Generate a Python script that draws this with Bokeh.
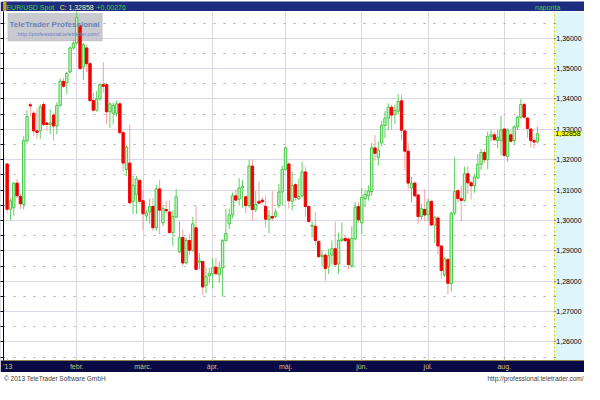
from bokeh.plotting import figure
from bokeh.models import Range1d, FixedTicker, LinearAxis, Label, BoxAnnotation, ColumnDataSource
from bokeh.layouts import column
from bokeh.embed import file_html
from bokeh.resources import INLINE
from bokeh.core.properties import value

# ---------------- data (EUR/USD Spot, daily, 3 Jan 2013 - 14 Aug 2013) ----------------
opens = [
    1.3186, 1.3037, 1.3042, 1.3123, 1.3079, 1.3053, 1.3263, 1.3381, 1.3353, 1.3295,
    1.3295, 1.3382, 1.3321, 1.3316, 1.3347, 1.3311, 1.3379, 1.3458, 1.3453, 1.3489,
    1.3568, 1.3584, 1.3642, 1.3505, 1.3568, 1.3516, 1.3395, 1.3363, 1.3400, 1.3447,
    1.3447, 1.3358, 1.3353, 1.3353, 1.3384, 1.3289, 1.3168, 1.3189, 1.3063, 1.3084,
    1.3132, 1.3065, 1.3015, 1.3028, 1.3046, 1.2976, 1.3104, 1.2992, 1.3036, 1.3028,
    1.2960, 1.3011, 1.2897, 1.2944, 1.2860, 1.2934, 1.2902, 1.2976, 1.2862, 1.2865,
    1.2786, 1.2818, 1.2825, 1.2846, 1.2823, 1.2844, 1.2934, 1.2989, 1.3018, 1.3081,
    1.3070, 1.3107, 1.3078, 1.3049, 1.3179, 1.3036, 1.3063, 1.3067, 1.3046, 1.3004,
    1.3013, 1.3013, 1.3049, 1.3094, 1.3168, 1.3186, 1.3063, 1.3118, 1.3071, 1.3081,
    1.3160, 1.3046, 1.2981, 1.2981, 1.2931, 1.2881, 1.2886, 1.2849, 1.2886, 1.2907,
    1.2857, 1.2934, 1.2941, 1.2939, 1.2850, 1.2939, 1.3046, 1.2992, 1.3071, 1.3081,
    1.3095, 1.3239, 1.3207, 1.3255, 1.3313, 1.3337, 1.3373, 1.3349, 1.3360, 1.3394,
    1.3295, 1.3228, 1.3107, 1.3123, 1.3084, 1.3013, 1.3036, 1.3019, 1.3063, 1.2985,
    1.3008, 1.2916, 1.2821, 1.2872, 1.2793, 1.3024, 1.3098, 1.3072, 1.3066, 1.3154,
    1.3124, 1.3114, 1.3140, 1.3185, 1.3224, 1.3200, 1.3277, 1.3282, 1.3263, 1.3263,
    1.3301, 1.3211, 1.3282, 1.3263, 1.3308, 1.3340, 1.3382, 1.3337, 1.3301, 1.3263,
    1.3259,
]
highs = [
    1.3190, 1.3074, 1.3126, 1.3137, 1.3089, 1.3279, 1.3363, 1.3389, 1.3360, 1.3368,
    1.3382, 1.3389, 1.3326, 1.3366, 1.3353, 1.3389, 1.3468, 1.3468, 1.3489, 1.3574,
    1.3595, 1.3711, 1.3647, 1.3584, 1.3579, 1.3521, 1.3421, 1.3426, 1.3453, 1.3521,
    1.3453, 1.3389, 1.3389, 1.3395, 1.3389, 1.3295, 1.3247, 1.3316, 1.3147, 1.3147,
    1.3137, 1.3100, 1.3036, 1.3071, 1.3074, 1.3118, 1.3134, 1.3049, 1.3065, 1.3065,
    1.3034, 1.3104, 1.2997, 1.2971, 1.2944, 1.2955, 1.3011, 1.3049, 1.2892, 1.2867,
    1.2844, 1.2844, 1.2876, 1.2878, 1.2865, 1.2939, 1.3039, 1.3039, 1.3092, 1.3102,
    1.3139, 1.3134, 1.3081, 1.3200, 1.3200, 1.3097, 1.3128, 1.3076, 1.3081, 1.3034,
    1.3097, 1.3039, 1.3120, 1.3181, 1.3244, 1.3192, 1.3160, 1.3123, 1.3139, 1.3194,
    1.3176, 1.3049, 1.2997, 1.3028, 1.2934, 1.2902, 1.2892, 1.2907, 1.2934, 1.2997,
    1.2960, 1.2994, 1.2949, 1.2944, 1.2981, 1.3060, 1.3060, 1.3107, 1.3102, 1.3116,
    1.3255, 1.3281, 1.3260, 1.3328, 1.3360, 1.3386, 1.3381, 1.3381, 1.3415, 1.3415,
    1.3297, 1.3255, 1.3144, 1.3128, 1.3086, 1.3055, 1.3103, 1.3072, 1.3066, 1.3014,
    1.3014, 1.2919, 1.2880, 1.2874, 1.3029, 1.3208, 1.3103, 1.3114, 1.3177, 1.3179,
    1.3130, 1.3151, 1.3219, 1.3235, 1.3235, 1.3293, 1.3298, 1.3293, 1.3298, 1.3345,
    1.3305, 1.3303, 1.3298, 1.3314, 1.3345, 1.3400, 1.3389, 1.3340, 1.3303, 1.3272,
    1.3308,
]
lows = [
    1.3026, 1.3000, 1.3016, 1.3074, 1.3037, 1.3037, 1.3253, 1.3342, 1.3279, 1.3268,
    1.3268, 1.3311, 1.3295, 1.3284, 1.3263, 1.3284, 1.3374, 1.3437, 1.3416, 1.3484,
    1.3563, 1.3579, 1.3495, 1.3463, 1.3489, 1.3389, 1.3358, 1.3358, 1.3395, 1.3421,
    1.3316, 1.3305, 1.3316, 1.3342, 1.3284, 1.3163, 1.3147, 1.3053, 1.3021, 1.3021,
    1.3053, 1.2968, 1.2998, 1.2989, 1.2965, 1.2965, 1.2955, 1.2981, 1.3023, 1.2955,
    1.2916, 1.3008, 1.2892, 1.2849, 1.2855, 1.2886, 1.2897, 1.2836, 1.2839, 1.2755,
    1.2760, 1.2792, 1.2776, 1.2818, 1.2794, 1.2749, 1.2931, 1.2971, 1.3007, 1.3060,
    1.3049, 1.3042, 1.3023, 1.3042, 1.2998, 1.3028, 1.3055, 1.3055, 1.2976, 1.2958,
    1.2997, 1.3008, 1.3042, 1.3049, 1.3165, 1.3039, 1.3034, 1.3065, 1.3068, 1.3076,
    1.3013, 1.2992, 1.2944, 1.2918, 1.2876, 1.2849, 1.2802, 1.2823, 1.2855, 1.2849,
    1.2823, 1.2929, 1.2928, 1.2839, 1.2844, 1.2934, 1.2992, 1.2955, 1.3044, 1.3065,
    1.3081, 1.3197, 1.3181, 1.3244, 1.3271, 1.3297, 1.3297, 1.3318, 1.3349, 1.3265,
    1.3165, 1.3102, 1.3060, 1.3076, 1.2989, 1.3002, 1.2997, 1.2998, 1.2982, 1.2926,
    1.2887, 1.2808, 1.2814, 1.2758, 1.2766, 1.3017, 1.3059, 1.2998, 1.3061, 1.3087,
    1.3069, 1.3091, 1.3137, 1.3166, 1.3189, 1.3168, 1.3261, 1.3261, 1.3238, 1.3214,
    1.3208, 1.3193, 1.3256, 1.3251, 1.3298, 1.3335, 1.3335, 1.3272, 1.3240, 1.3238,
    1.3253,
]
closes = [
    1.3037, 1.3065, 1.3123, 1.3081, 1.3055, 1.3263, 1.3342, 1.3377, 1.3295, 1.3290,
    1.3374, 1.3316, 1.3316, 1.3321, 1.3311, 1.3379, 1.3458, 1.3442, 1.3484, 1.3568,
    1.3584, 1.3668, 1.3500, 1.3579, 1.3516, 1.3395, 1.3363, 1.3400, 1.3447, 1.3442,
    1.3358, 1.3384, 1.3379, 1.3384, 1.3289, 1.3189, 1.3242, 1.3058, 1.3116, 1.3137,
    1.3063, 1.3022, 1.3025, 1.3046, 1.2976, 1.3104, 1.3034, 1.3039, 1.3032, 1.2960,
    1.3013, 1.3078, 1.2944, 1.2860, 1.2934, 1.2902, 1.2989, 1.2839, 1.2867, 1.2781,
    1.2815, 1.2825, 1.2844, 1.2825, 1.2844, 1.2934, 1.2957, 1.3018, 1.3081, 1.3067,
    1.3107, 1.3113, 1.3049, 1.3179, 1.3036, 1.3053, 1.3057, 1.3062, 1.3004, 1.3015,
    1.3008, 1.3028, 1.3094, 1.3168, 1.3239, 1.3065, 1.3116, 1.3076, 1.3079, 1.3160,
    1.3046, 1.2997, 1.2984, 1.2934, 1.2881, 1.2886, 1.2842, 1.2884, 1.2907, 1.2855,
    1.2934, 1.2939, 1.2934, 1.2855, 1.2941, 1.3044, 1.3002, 1.3076, 1.3086, 1.3097,
    1.3239, 1.3221, 1.3232, 1.3313, 1.3337, 1.3373, 1.3347, 1.3362, 1.3392, 1.3297,
    1.3228, 1.3123, 1.3123, 1.3081, 1.3013, 1.3039, 1.3018, 1.3061, 1.2985, 1.3011,
    1.2916, 1.2835, 1.2874, 1.2793, 1.3024, 1.3095, 1.3072, 1.3066, 1.3154, 1.3124,
    1.3114, 1.3143, 1.3185, 1.3224, 1.3200, 1.3277, 1.3282, 1.3266, 1.3274, 1.3298,
    1.3214, 1.3298, 1.3261, 1.3308, 1.3340, 1.3382, 1.3340, 1.3303, 1.3263, 1.32582,
    1.32858,
]

# month starts (index of first trading day) and their labels
month_ticks = [0.2, 21, 41, 62, 84, 107, 127, 150]
month_labels = ["'13", "febr.", "márc.", "ápr.", "máj.", "jún.", "júl.", "aug."]
grid_months = [21, 41, 62, 84, 107, 127, 150]

price_ticks = [1.26, 1.27, 1.28, 1.29, 1.30, 1.31, 1.32, 1.33, 1.34, 1.35, 1.36]
price_labels = ["1,26000", "1,27000", "1,28000", "1,29000", "1,30000", "1,31000",
                "1,32000", "1,33000", "1,34000", "1,35000", "1,36000"]
price_half = [1.255, 1.265, 1.275, 1.285, 1.295, 1.305, 1.315, 1.325, 1.335, 1.345, 1.355, 1.365]
ruler = price_ticks + price_half

# ---------------- styling constants ----------------
FONT = "Liberation Sans"
W = 584
HEAD_H = 11
FOOT_H = 12
MAIN_H = 384 - HEAD_H - FOOT_H
HEAD_BG = "#1d2c80"
BAR_BG = "#0a0a46"
X_START, X_AXIS, X_END = -1.1, 165.1, 174.2   # price scale panel sits right of X_AXIS

idx = list(range(len(opens)))
up = [c >= o for o, c in zip(opens, closes)]
src = ColumnDataSource(dict(
    x=idx, o=opens, h=highs, l=lows, c=closes,
    top=[max(o, c) for o, c in zip(opens, closes)],
    bottom=[min(o, c) for o, c in zip(opens, closes)],
    fill=["#c9f3c9" if u else "#f20000" for u in up],
    line=["#46c846" if u else "#f20000" for u in up],
    wick=["#5fd25f" if u else "#f2a0a0" for u in up],
))

last = closes[-1]
chg = closes[-1] - closes[-2]
fmt = lambda v: f"{v:.5f}".replace(".", ",")

# ---------------- header ----------------
h = figure(width=W, height=HEAD_H, x_range=Range1d(0, 600), y_range=Range1d(0, 11),
           toolbar_location=None, output_backend="svg", min_border=0,
           background_fill_color=HEAD_BG, border_fill_color=HEAD_BG, outline_line_color=None,
           x_axis_location=None, y_axis_location=None)
h.grid.visible = False
h.quad(left=[0], right=[2.5], bottom=[0], top=[11], color="#d8a428")
hdr = [("EUR/USD Spot", 3, "#3cd83c"), ("C:", 58, "#f0ec30"),
       (fmt(last), 67, "#f4f0b0"), (("+" if chg >= 0 else "") + fmt(chg), 96, "#3cd83c")]
for t, xx, col in hdr:
    h.text(x=[xx], y=[5.5], text=[t], text_font=value(FONT), text_font_size="7px",
           text_color=col, text_baseline="middle", text_align="left")
h.text(x=[562], y=[5.5], text=["naponta"], text_font=value(FONT), text_font_size="7px",
       text_color="#3cd83c", text_baseline="middle", text_align="center")

# ---------------- main chart ----------------
p = figure(width=W, height=MAIN_H, output_backend="svg", toolbar_location=None,
           x_range=Range1d(X_START, X_END), y_range=Range1d(1.2539, 1.3688),
           y_axis_location="right", min_border=0,
           background_fill_color="white", border_fill_color=BAR_BG, outline_line_color=None)

# price-scale panel background (light cyan) inside the frame
p.add_layout(BoxAnnotation(left=X_AXIS, fill_color="#ddf5fb", fill_alpha=1.0,
                           line_color=None, level="underlay"))

p.xgrid.ticker = FixedTicker(ticks=grid_months)
p.xgrid.grid_line_color = "#dcd6e6"
p.ygrid.ticker = FixedTicker(ticks=price_ticks, minor_ticks=price_half)
p.ygrid.grid_line_color = "#dcd6e6"
p.ygrid.minor_grid_line_color = "#aaaaaa"
p.ygrid.minor_grid_line_dash = "2 8"

# price axis drawn at the panel boundary, labels inside the cyan panel
ya = p.yaxis[0]
ya.fixed_location = X_AXIS
ya.ticker = FixedTicker(ticks=price_ticks, minor_ticks=price_half)
ya.major_label_overrides = dict(zip(price_ticks, price_labels))
ya.axis_line_color = "#e2d400"
ya.axis_line_dash = "2 2"
ya.axis_line_width = 1
ya.major_tick_line_color = "#303030"
ya.major_tick_out = 1
ya.major_tick_in = 0
ya.minor_tick_line_color = "#505050"
ya.minor_tick_out = 1
ya.minor_tick_in = 0
ya.major_label_text_font = FONT
ya.major_label_text_font_size = "7px"
ya.major_label_text_color = "black"
ya.major_label_standoff = 1

xa = p.xaxis[0]
xa.ticker = FixedTicker(ticks=month_ticks)
xa.major_label_overrides = dict(zip(month_ticks, month_labels))
xa.background_fill_color = BAR_BG
xa.axis_line_color = "#8c8450"
xa.major_tick_in = 2
xa.major_tick_out = 0
xa.major_tick_line_color = "#cbc37c"
xa.minor_tick_line_color = None
xa.major_label_text_color = "#cbc37c"
xa.major_label_text_font = FONT
xa.major_label_text_font_size = "7px"
xa.major_label_standoff = 2

# thin ruler on the left edge (minor ticks only, no labels)
la = LinearAxis(ticker=FixedTicker(ticks=[], minor_ticks=ruler),
                major_label_standoff=0, major_tick_out=0, major_tick_in=0,
                minor_tick_out=3, minor_tick_in=0,
                axis_line_color="black", minor_tick_line_color="black",
                background_fill_color="white")
p.add_layout(la, "left")

# watermark box
p.add_layout(BoxAnnotation(left=0.2, right=28.7, bottom=1.3591, top=1.3682,
                           fill_color="#c3c3cb", fill_alpha=0.9, line_color="#a9a9b3",
                           level="underlay"))

# candles
p.segment(x0="x", y0="l", x1="x", y1="h", line_color="wick", line_width=1, source=src)
p.vbar(x="x", width=0.72, top="top", bottom="bottom", fill_color="fill",
       line_color="line", line_width=1, source=src)

p.add_layout(Label(x=14.3, y=1.3646, text="TeleTrader Professional", text_align="center",
                   text_baseline="middle", text_font=FONT, text_font_size="8px",
                   text_font_style="bold", text_color="#6d82ba"))
p.add_layout(Label(x=15.5, y=1.3614, text="http://professional.teletrader.com/",
                   text_align="center", text_baseline="middle", text_font=FONT,
                   text_font_size="5.5px", text_color="#6a80c8"))

# last price marker on the price scale
p.add_layout(Label(x=X_AXIS, y=last, x_offset=1, text=fmt(last), text_align="left",
                   text_baseline="middle", text_font=FONT, text_font_size="7px",
                   text_color="black", background_fill_color="#ffff00", level="overlay"))

# ---------------- footer ----------------
f = figure(width=W, height=FOOT_H, x_range=Range1d(0, 600), y_range=Range1d(0, 12),
           toolbar_location=None, output_backend="svg", min_border=0,
           background_fill_color="white", border_fill_color="white", outline_line_color=None,
           x_axis_location=None, y_axis_location=None)
f.grid.visible = False
f.text(x=[0.5], y=[6], text=["© 2013 TeleTrader Software GmbH"], text_font=value(FONT),
       text_font_size="6.5px", text_color="#404040", text_baseline="middle", text_align="left")
f.text(x=[599], y=[6], text=["http://professional.teletrader.com/"], text_font=value(FONT),
       text_font_size="6.5px", text_color="#404040", text_baseline="middle", text_align="right")

layout = column(h, p, f, spacing=0)
open("out.html", "w").write(file_html(layout, INLINE))
